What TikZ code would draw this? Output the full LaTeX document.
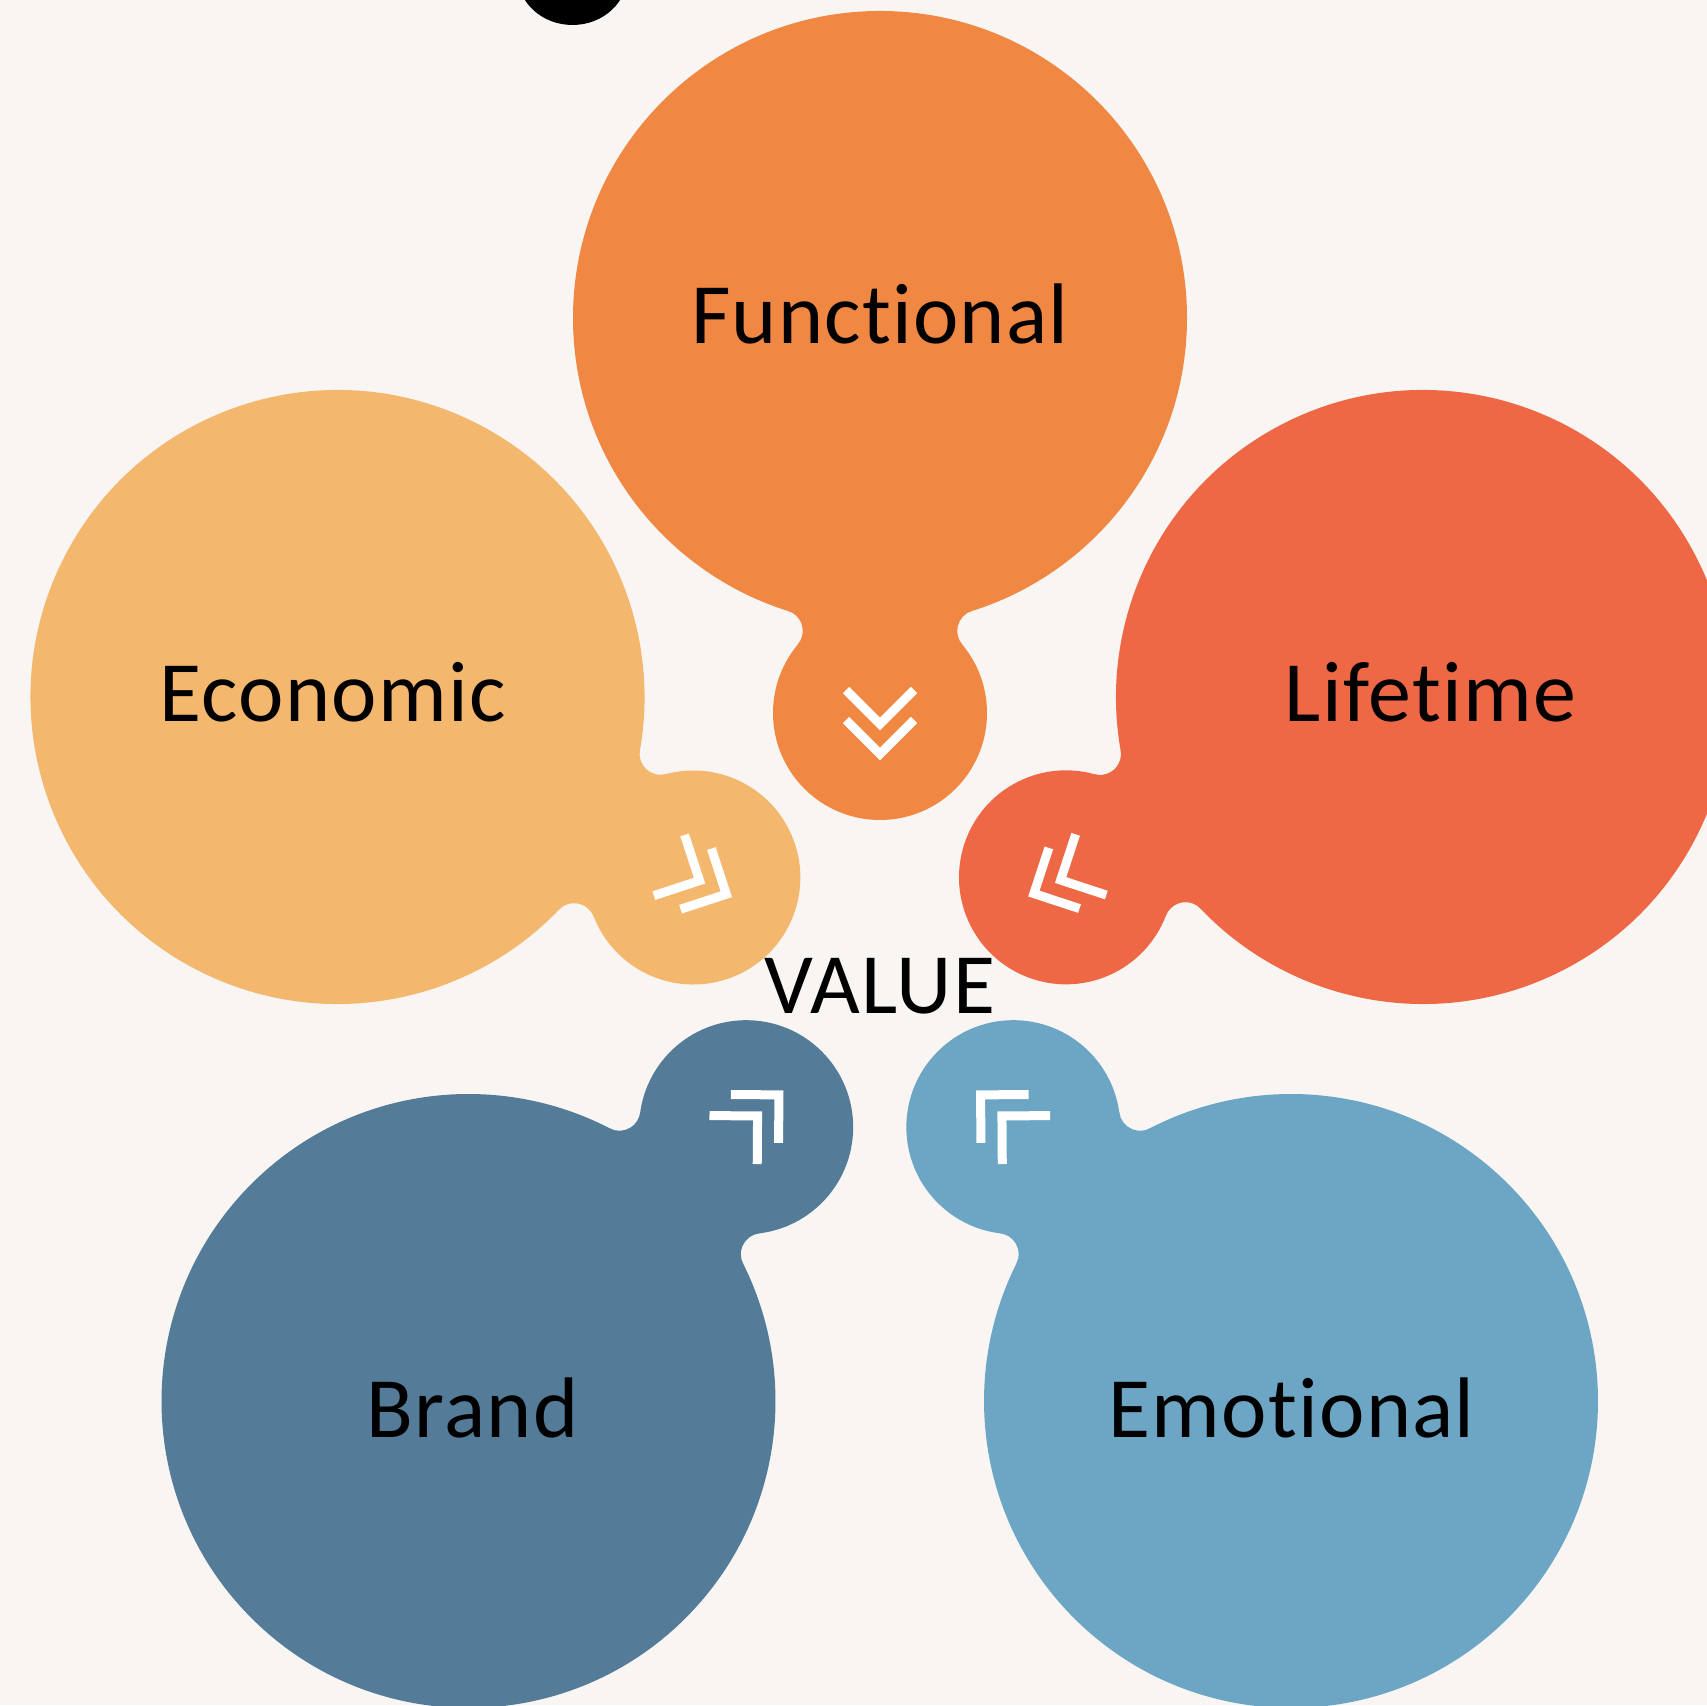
\documentclass[tikz,border=0pt]{standalone}
\usepackage{fontspec}
\setmainfont{Carlito}[LetterSpace=1.5, Ligatures=NoCommon, RawFeature=-dlig]

\definecolor{paper}{HTML}{F8F5F2}
\definecolor{cfunctional}{HTML}{F08743}
\definecolor{ceconomic}{HTML}{F4B76E}
\definecolor{clifetime}{HTML}{EF6845}
\definecolor{cbrand}{HTML}{547B98}
\definecolor{cemotional}{HTML}{6CA6C4}

% radii of the big lobe, the small lobe and the fillet, in units of 100px
\def\Rb{3.07}
\def\Rs{1.07}
\def\Rf{0.21}

\tikzset{
  label text/.style={font=\fontsize{86}{100}\selectfont, text=black, anchor=base, inner sep=0pt},
  chevron/.style={draw=white, line width=9pt, line cap=butt, line join=miter},
}

% #1,#2 centre of the big lobe; #3 direction towards the small lobe;
% #4 distance between the lobe centres; #5 colour; #6 chevron offset
\newcommand\petal[6]{%
  \begin{scope}[shift={(#1,#2)}, rotate=#3, scale=100]
    \pgfmathsetmacro\dd{#4}
    \pgfmathsetmacro\cx{(\dd*\dd+(\Rb-\Rs)*(\Rb+\Rs+2*\Rf))/(2*\dd)}
    \pgfmathsetmacro\cy{sqrt((\Rb+\Rf)*(\Rb+\Rf)-\cx*\cx)}
    \pgfmathsetmacro\tax{\cx*\Rb/(\Rb+\Rf)}
    \pgfmathsetmacro\tay{\cy*\Rb/(\Rb+\Rf)}
    \pgfmathsetmacro\tbx{\dd+(\cx-\dd)*\Rs/(\Rs+\Rf)}
    \pgfmathsetmacro\tby{\cy*\Rs/(\Rs+\Rf)}
    \pgfmathsetmacro\aone{atan2(-\cy,-\cx)+360}
    \pgfmathsetmacro\atwo{atan2(-\cy,\dd-\cx)+360}
    \pgfmathsetmacro\bone{360-\atwo}
    \pgfmathsetmacro\btwo{360-\aone}
    \fill[#5] (0,0) circle[radius=\Rb];
    \fill[#5] (\dd,0) circle[radius=\Rs];
    \fill[#5] (0,0) -- (\tax,\tay)
      arc[start angle=\aone, end angle=\atwo, radius=\Rf]
      -- (\dd,0) -- (\tbx,-\tby)
      arc[start angle=\bone, end angle=\btwo, radius=\Rf] -- cycle;
    \pgfmathsetmacro\va{\dd+#6}
    \pgfmathsetmacro\vb{\dd+#6+0.30}
    \draw[chevron] (\va-0.34,0.34) -- (\va,0) -- (\va-0.34,-0.34);
    \draw[chevron] (\vb-0.34,0.34) -- (\vb,0) -- (\vb-0.34,-0.34);
  \end{scope}}

\begin{document}
\begin{tikzpicture}[x=1pt, y=1pt]
  \useasboundingbox (0,0) rectangle (1707,1705);
  \clip (0,0) rectangle (1707,1705);
  \fill[paper] (0,0) rectangle (1707,1705);

  \petal{880}{1387}{-90}{3.95}{cfunctional}{0.11}
  \petal{337.5}{1008}{-26.9}{3.99}{ceconomic}{0.07}
  \petal{1423}{1008}{206.8}{4.00}{clifetime}{0.06}
  \petal{468.5}{304}{44.6}{3.90}{cbrand}{0.16}
  \petal{1291}{304}{135.4}{3.90}{cemotional}{0.16}

  % dark blob cut by the upper edge
  \fill[black] (572.5,1730) ellipse[x radius=55, y radius=50];

  \node[label text] (functional) at (880,1361) {Functional};
  \node[label text] (economic) at (333,983) {Economic};
  \node[label text] (lifetime) at (1430.5,983) {Lifetime};
  \node[label text] (brand) at (472.5,267) {Brand};
  \node[label text] (emotional) at (1291.7,267) {Emotional};
  \node[label text] (value) at (879.7,691.4) {VALUE};
\end{tikzpicture}
\end{document}
